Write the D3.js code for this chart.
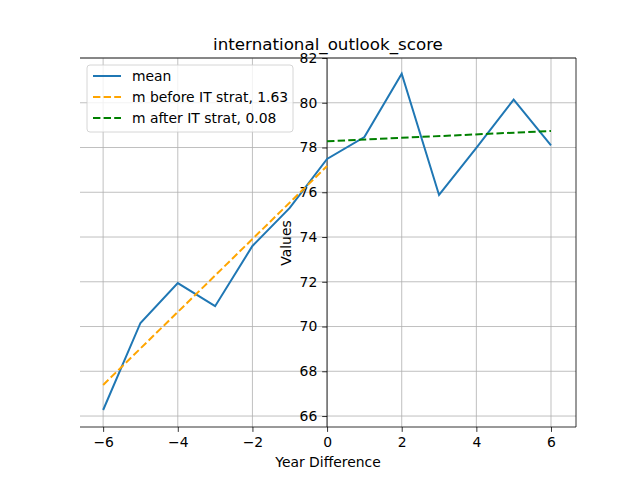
<!DOCTYPE html>
<html><head><meta charset="utf-8">
<script src="https://cdn.jsdelivr.net/npm/d3@7"></script>
<style>body{margin:0;background:#fff}text{font-family:"DejaVu Sans",sans-serif}</style>
</head><body>
<svg id="c" width="640" height="480"></svg>
<script>
// data
var years = [-6,-5,-4,-3,-2,-1,0,1,2,3,4,5,6];
var meanVals = [66.27,70.16,71.94,70.91,73.6,75.3,77.49,78.47,81.3,75.88,77.98,80.14,78.1];
var beforeFit = [[-6,67.39],[0,77.17]];
var afterFit = [[0,78.28],[6,78.74]];
var yTicks = [66,68,70,72,74,76,78,80,82];
var xTicks = [-6,-4,-2,0,2,4,6];

var svg = d3.select("#c");
var L = 80, R = 576, T = 58, B = 427;
var x = d3.scaleLinear().domain([-6.62,6.67]).range([L,R]);
var y = d3.scaleLinear().domain([65.51,82]).range([B,T]);

// grid
svg.append("g").selectAll("line").data(xTicks).join("line")
  .attr("x1",d=>x(d)).attr("x2",d=>x(d)).attr("y1",T).attr("y2",B)
  .attr("stroke","#b0b0b0").attr("stroke-width",0.8);
svg.append("g").selectAll("line").data(yTicks).join("line")
  .attr("x1",L).attr("x2",R).attr("y1",d=>y(d)).attr("y2",d=>y(d))
  .attr("stroke","#b0b0b0").attr("stroke-width",0.8);

// spines: left spine sits at x=0
svg.append("line").attr("x1",L).attr("x2",R).attr("y1",B).attr("y2",B).attr("stroke","#000").attr("stroke-width",0.8);
svg.append("line").attr("x1",L).attr("x2",R).attr("y1",T).attr("y2",T).attr("stroke","#000").attr("stroke-width",0.8);
svg.append("line").attr("x1",R).attr("x2",R).attr("y1",T).attr("y2",B).attr("stroke","#000").attr("stroke-width",0.8);

var xa = svg.append("g").attr("transform","translate(0,"+B+")")
  .call(d3.axisBottom(x).tickValues(xTicks).tickSize(4.9).tickPadding(4.9).tickFormat(d=>d<0?"\u2212"+(-d):d));
var ya = svg.append("g").attr("transform","translate("+x(0)+",0)")
  .call(d3.axisLeft(y).tickValues(yTicks).tickSize(4.9).tickPadding(4.9));
[xa,ya].forEach(a=>{a.select(".domain").remove();
  a.selectAll("text").attr("font-size",13.9).attr("fill","#000").style("font-family","DejaVu Sans");
  a.selectAll("line").attr("stroke-width",0.8);});
svg.append("line").attr("x1",x(0)).attr("x2",x(0)).attr("y1",T).attr("y2",B).attr("stroke","#000").attr("stroke-width",0.8);

// lines
var line = d3.line().x(d=>x(d[0])).y(d=>y(d[1]));
svg.append("path").datum(years.map((d,i)=>[d,meanVals[i]])).attr("d",line)
  .attr("fill","none").attr("stroke","#1f77b4").attr("stroke-width",2);
svg.append("path").datum(beforeFit).attr("d",line).attr("fill","none")
  .attr("stroke","orange").attr("stroke-width",2).attr("stroke-dasharray","7.4,3.2");
svg.append("path").datum(afterFit).attr("d",line).attr("fill","none")
  .attr("stroke","green").attr("stroke-width",2).attr("stroke-dasharray","7.4,3.2");

// labels
svg.append("text").attr("x",328).attr("y",50).attr("text-anchor","middle").attr("font-size",16.7).text("international_outlook_score");
svg.append("text").attr("x",328).attr("y",467).attr("text-anchor","middle").attr("font-size",13.9).text("Year Difference");
svg.append("text").attr("transform","translate(291,243) rotate(-90)").attr("text-anchor","middle").attr("font-size",13.9).text("Values");

// legend
var lg = svg.append("g");
lg.append("rect").attr("x",87).attr("y",65).attr("width",206).attr("height",67).attr("rx",3)
  .attr("fill","#fff").attr("fill-opacity",0.8).attr("stroke","#ccc").attr("stroke-width",0.8);
var items = [["mean","#1f77b4",null],["m before IT strat, 1.63","orange","7.4,3.2"],["m after IT strat, 0.08","green","7.4,3.2"]];
items.forEach((it,i)=>{
  var yy = 76 + i*21;
  lg.append("line").attr("x1",93).attr("x2",121).attr("y1",yy).attr("y2",yy)
    .attr("stroke",it[1]).attr("stroke-width",2).attr("stroke-dasharray",it[2]);
  lg.append("text").attr("x",132).attr("y",yy+5).attr("font-size",13.9).text(it[0]);
});
</script>
</body></html>
